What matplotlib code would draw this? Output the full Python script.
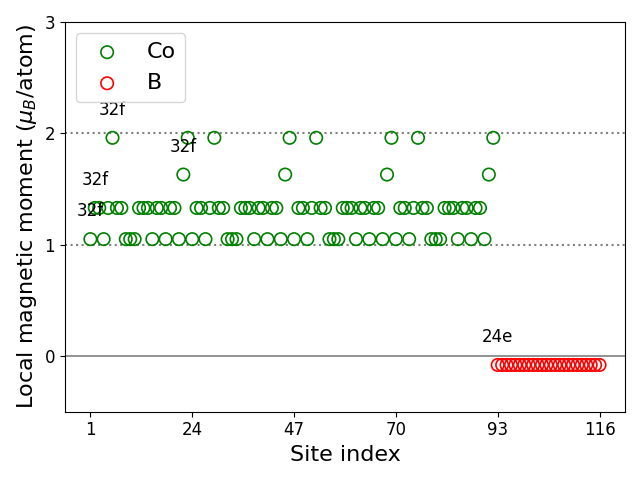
import matplotlib
matplotlib.use("Agg")
import matplotlib.pyplot as plt

# Co magnetic moments (sites 1-92), B moments (sites 93-116)
co_moments = [
    1.05, 1.33, 1.33, 1.05, 1.33, 1.96, 1.33, 1.33, 1.05, 1.05, 1.05, 1.33,
    1.33, 1.33, 1.05, 1.33, 1.33, 1.05, 1.33, 1.33, 1.05, 1.63, 1.96,
    1.05, 1.33, 1.33, 1.05, 1.33, 1.96, 1.33, 1.33, 1.05, 1.05, 1.05, 1.33,
    1.33, 1.33, 1.05, 1.33, 1.33, 1.05, 1.33, 1.33, 1.05, 1.63, 1.96,
    1.05, 1.33, 1.33, 1.05, 1.33, 1.96, 1.33, 1.33, 1.05, 1.05, 1.05, 1.33,
    1.33, 1.33, 1.05, 1.33, 1.33, 1.05, 1.33, 1.33, 1.05, 1.63, 1.96,
    1.05, 1.33, 1.33, 1.05, 1.33, 1.96, 1.33, 1.33, 1.05, 1.05, 1.05, 1.33,
    1.33, 1.33, 1.05, 1.33, 1.33, 1.05, 1.33, 1.33, 1.05, 1.63, 1.96,
]
b_moments = [-0.08] * 24

co_sites = list(range(1, len(co_moments) + 1))
b_sites = list(range(len(co_moments) + 1, len(co_moments) + len(b_moments) + 1))

# annotations: (site, moment, label)
ann_sites = [1, 2, 22, 6, 93]
ann_values = [1.05, 1.33, 1.63, 1.96, -0.08]
ann_labels = ["32f", "32f", "32f", "32f", "24e"]

xtick_vals = [1, 24, 47, 70, 93, 116]

fig, ax = plt.subplots(figsize=(6.4, 4.8), dpi=100)
ax.axhline(0, color="gray", lw=1.2, zorder=1)
ax.axhline(1, color="gray", ls=":", lw=1.5, zorder=1)
ax.axhline(2, color="gray", ls=":", lw=1.5, zorder=1)

ax.scatter(co_sites, co_moments, s=80, facecolors="none", edgecolors="green",
           linewidths=1.2, label="Co", zorder=3)
ax.scatter(b_sites, b_moments, s=80, facecolors="none", edgecolors="red",
           linewidths=1.2, label="B", zorder=3)

for xs, ys, lab in zip(ann_sites, ann_values, ann_labels):
    ax.text(xs, ys + 0.25, lab, ha="center", va="center", fontsize=12)

ax.set_xticks(xtick_vals)
ax.set_yticks([0, 1, 2, 3])
ax.set_ylim(-0.5, 3)
ax.tick_params(labelsize=12)
ax.set_xlabel("Site index", fontsize=16)
ax.set_ylabel(r"Local magnetic moment ($\mu_B$/atom)", fontsize=16)
ax.legend(loc="upper left", fontsize=16)
fig.tight_layout()
fig.savefig("out.png", dpi=100)
